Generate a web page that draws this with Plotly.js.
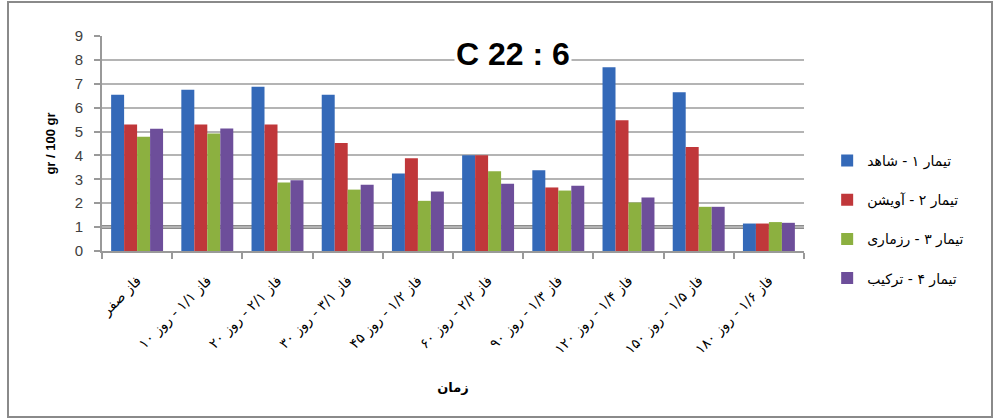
<!DOCTYPE html>
<html>
<head>
<meta charset="utf-8">
<script src="https://cdn.plot.ly/plotly-3.0.1.min.js"></script>
<style>
  html, body { margin: 0; padding: 0; background: #fff; }
  #wrap { position: relative; width: 1000px; height: 418px; }
  #chart { width: 1000px; height: 418px; }
  #frame { position: absolute; left: 7px; top: 1px; width: 982px; height: 413px; border: 2px solid #8a8a8a; pointer-events: none; }
</style>
</head>
<body>
<div id="wrap">
  <div id="chart"></div>
  <div id="frame"></div>
</div>
<script>
// categories (x-axis tick labels)
var categories = [
  "فاز صفر",
  "فاز ۱/۱ - روز ۱۰",
  "فاز ۲/۱ - روز ۲۰",
  "فاز ۳/۱ - روز ۳۰",
  "فاز ۱/۲ - روز ۴۵",
  "فاز ۲/۲ - روز ۶۰",
  "فاز ۱/۳ - روز ۹۰",
  "فاز ۱/۴ - روز ۱۲۰",
  "فاز ۱/۵ - روز ۱۵۰",
  "فاز ۱/۶ - روز ۱۸۰"
];

// series names
var seriesNames = [
  "تیمار ۱ - شاهد",
  "تیمار ۲ - آویشن",
  "تیمار ۳ - رزماری",
  "تیمار ۴ - ترکیب"
];

// series values (gr / 100 gr)
var control   = [6.54, 6.75, 6.88, 6.54, 3.24, 4.01, 3.38, 7.69, 6.65, 1.15];
var thyme     = [5.30, 5.30, 5.30, 4.52, 3.88, 4.01, 2.66, 5.47, 4.35, 1.15];
var rosemary  = [4.78, 4.92, 2.87, 2.57, 2.10, 3.34, 2.53, 2.03, 1.85, 1.21];
var combined  = [5.12, 5.13, 2.96, 2.77, 2.49, 2.81, 2.73, 2.24, 1.85, 1.18];

var seriesValues = [control, thyme, rosemary, combined];
var seriesColors = ["#3469b8", "#c0373a", "#8cb040", "#6d4e9a"];

var traces = seriesValues.map(function (vals, i) {
  return {
    type: "bar",
    name: seriesNames[i],
    x: categories,
    y: vals,
    legendgroup: "g" + i,
    marker: { color: seriesColors[i], line: { width: 0 } },
    hoverinfo: "x+y+name"
  };
});

var arabicFont = "DejaVu Sans, Noto Sans, sans-serif";

var layout = {
  width: 1000,
  height: 418,
  paper_bgcolor: "#ffffff",
  plot_bgcolor: "#ffffff",
  margin: { l: 102, r: 196, t: 36, b: 167, autoexpand: false },
  barmode: "group",
  bargap: 0.26,
  bargroupgap: 0,
  showlegend: true,
  legend: {
    x: 1.033,
    xanchor: "left",
    y: 0.147,
    yanchor: "middle",
    tracegroupgap: 18,
    font: { family: arabicFont, size: 14, color: "#000" },
    bgcolor: "rgba(0,0,0,0)",
    itemclick: false
  },
  xaxis: {
    type: "category",
    tickangle: -45,
    tickson: "boundaries",
    ticks: "outside",
    ticklen: 6,
    tickwidth: 2,
    tickcolor: "#999",
    showline: true,
    linecolor: "#999",
    linewidth: 2,
    showgrid: false,
    zeroline: false,
    automargin: false,
    ticklabelstandoff: 14,
    tickfont: { family: arabicFont, size: 14, color: "#000" },
    title: {
      text: "زمان",
      font: { family: arabicFont, size: 13, color: "#000", weight: "bold" },
      standoff: 26
    }
  },
  yaxis: {
    range: [0, 9],
    dtick: 1,
    tick0: 0,
    ticks: "outside",
    ticklen: 6,
    tickwidth: 2,
    tickcolor: "#999",
    showline: true,
    linecolor: "#999",
    linewidth: 2,
    showgrid: true,
    gridcolor: "#b4b4b4",
    gridwidth: 2,
    zeroline: false,
    automargin: false,
    ticklabelstandoff: 8,
    tickfont: { family: "Liberation Sans, Arial, sans-serif", size: 15, color: "#404040" },
    title: {
      text: "gr / 100 gr",
      font: { family: "Liberation Sans, Arial, sans-serif", size: 13, color: "#000", weight: "bold" },
      standoff: 16
    }
  },
  shapes: [
    { type: "line", xref: "paper", x0: 0, x1: 1, yref: "y", y0: 1, y1: 1,
      line: { color: "#8c8c8c", width: 4 }, layer: "below" }
  ],
  annotations: [
    { text: "<b>C 22 : 6</b>", xref: "paper", yref: "paper", x: 0.585, y: 0.915,
      xanchor: "center", yanchor: "middle", showarrow: false,
      font: { family: "Liberation Sans, Arial, sans-serif", size: 32, color: "#000" },
      bgcolor: "#ffffff", borderpad: 1 }
  ]
};

Plotly.newPlot("chart", traces, layout, { displayModeBar: false, staticPlot: true });
</script>
</body>
</html>
